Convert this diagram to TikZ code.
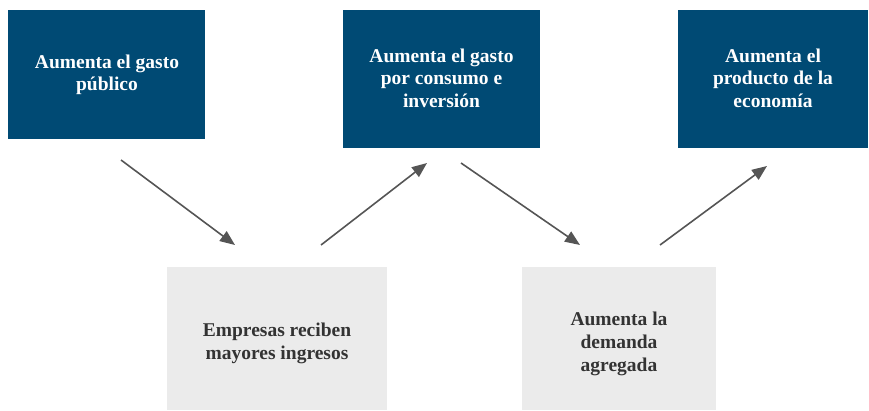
\documentclass[tikz,border=0pt]{standalone}
\usepackage{fontspec}
\setmainfont{Liberation Serif}
\usetikzlibrary{arrows.meta}
\definecolor{dblue}{HTML}{004A74}
\definecolor{lgray}{HTML}{EBEBEB}
\definecolor{agray}{HTML}{555555}
\definecolor{tdark}{HTML}{333333}
\begin{document}
\begin{tikzpicture}[x=1pt,y=-1pt,
  bluetext/.style={text=white, font=\bfseries\fontsize{19.5}{22.5}\selectfont, align=center},
  graytext/.style={text=tdark, font=\bfseries\fontsize{19.5}{23}\selectfont, align=center},
  conn/.style={draw=agray, line width=1.6pt, -{Triangle[length=15pt,width=12pt]}}]
\useasboundingbox (0,0) rectangle (869,410);
\fill[dblue] (8,10) rectangle (205,139);
\fill[dblue] (343,10) rectangle (540,148);
\fill[dblue] (678,10) rectangle (868,148);
\fill[lgray] (167,267) rectangle (387,410);
\fill[lgray] (522,267) rectangle (716,410);
\node[bluetext] (b1) at (107,75) {Aumenta el gasto\\público};
\node[bluetext] (b2) at (441.5,78) {Aumenta el gasto\\por consumo e\\inversión};
\node[bluetext] (b3) at (773,78) {Aumenta el\\producto de la\\economía};
\node[graytext] (b4) at (277,343) {Empresas reciben\\mayores ingresos};
\node[graytext] (b5) at (619,344) {Aumenta la\\demanda\\agregada};
\coordinate (s1) at (121,160); \coordinate (e1) at (235,245);
\coordinate (s2) at (321,245); \coordinate (e2) at (427,163);
\coordinate (s3) at (461,163); \coordinate (e3) at (580,245);
\coordinate (s4) at (660,245); \coordinate (e4) at (767,166);
\draw[conn] (s1) -- (e1);
\draw[conn] (s2) -- (e2);
\draw[conn] (s3) -- (e3);
\draw[conn] (s4) -- (e4);
\end{tikzpicture}
\end{document}
